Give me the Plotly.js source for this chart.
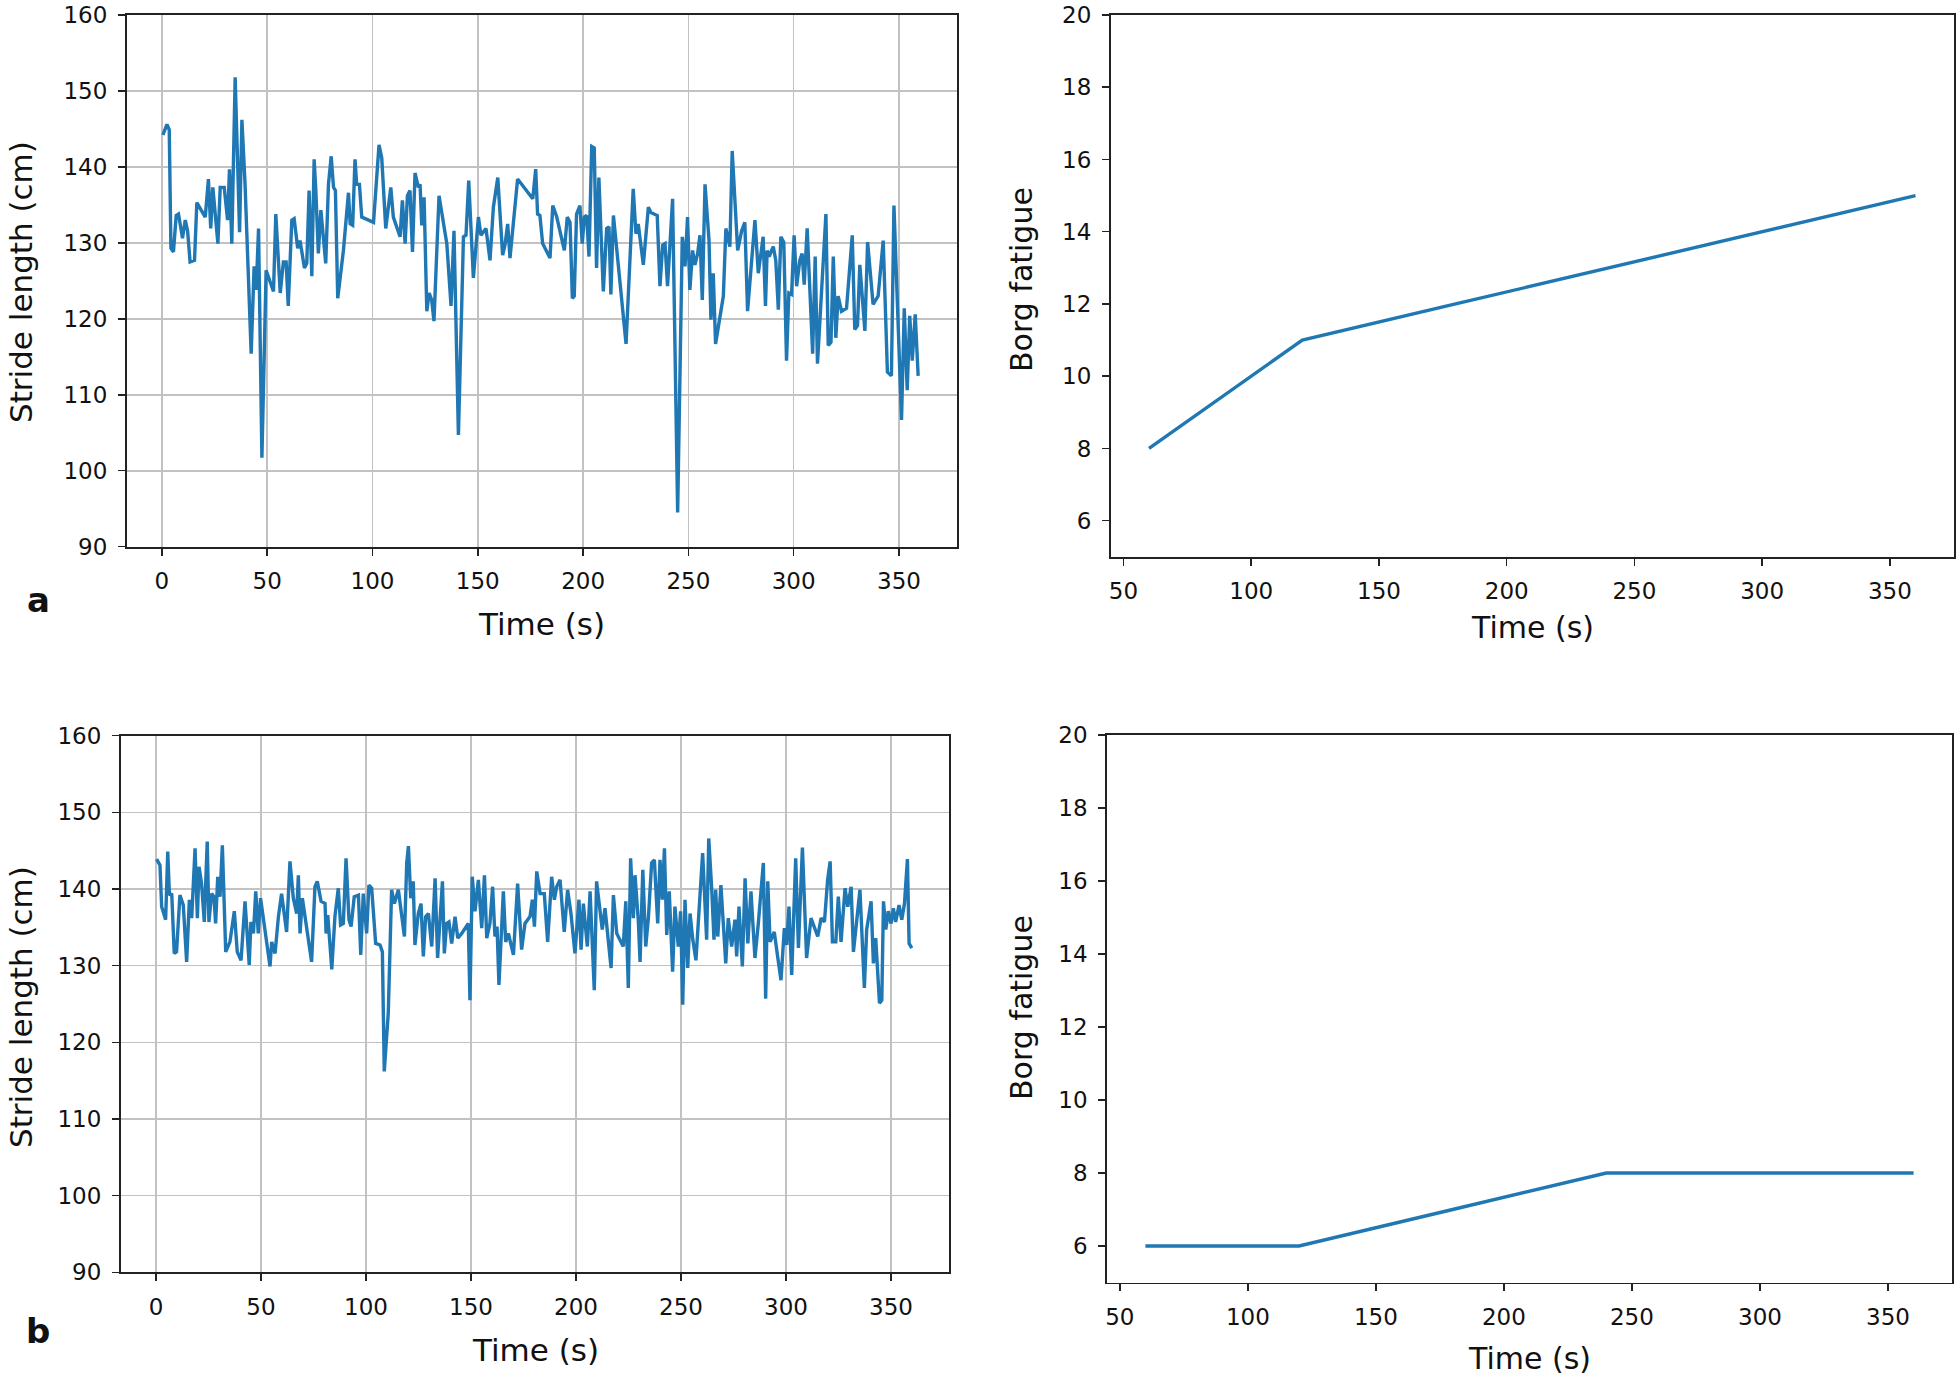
<!DOCTYPE html>
<html>
<head>
<meta charset="utf-8">
<script src="https://cdn.plot.ly/plotly-3.0.1.min.js"></script>
<style>html,body{margin:0;padding:0;background:#fff;}#chart{width:1957px;height:1375px;}</style>
</head>
<body>
<div id="chart"></div>
<script>
// ---- Data ----
const timeA = [0.5,2.4,3.5,4.3,5.5,6.8,7.9,9.8,11.1,12.2,13.4,15.5,16.6,20.6,22.1,23.2,24.2,26.6,27.7,29.6,31.2,32.1,33.2,34.8,36.9,38.0,39.5,42.4,43.8,44.8,45.9,47.5,49.5,53.0,54.1,56.2,57.7,59.0,60.0,61.7,62.8,64.5,65.6,67.7,68.8,69.9,71.2,72.3,73.1,74.3,75.5,77.8,79.1,80.4,81.5,82.4,83.5,86.2,88.6,89.4,90.6,91.7,92.5,93.8,94.9,100.5,103.1,104.4,106.3,108.7,109.9,113.1,114.2,115.5,116.6,117.8,119.0,120.2,121.8,122.6,123.4,124.5,125.8,126.9,128.1,129.2,131.6,135.3,137.3,138.7,140.8,143.2,144.4,145.7,147.9,150.3,151.5,152.6,153.9,155.8,157.4,159.5,161.8,162.9,164.2,165.3,168.9,176.1,177.5,178.4,179.5,180.8,184.3,185.6,187.5,191.1,192.5,193.8,194.9,195.8,196.9,198.5,199.6,200.6,201.7,202.8,204.1,205.3,206.4,207.5,209.6,211.2,212.3,213.2,214.4,220.4,223.8,225.1,226.2,228.6,231.0,232.2,235.2,236.5,237.8,238.9,240.1,242.5,244.9,247.1,248.4,249.6,250.7,252.0,253.1,254.4,255.5,256.6,257.9,259.8,260.7,261.8,262.9,266.6,267.8,269.7,270.8,273.4,275.3,276.8,278.1,281.6,283.2,285.5,286.6,287.4,288.4,289.5,290.3,291.5,292.7,293.9,295.3,296.6,297.7,299.0,300.2,301.4,302.9,304.0,305.0,306.4,307.7,309.0,310.2,311.3,315.3,316.4,317.7,318.8,320.0,321.1,322.7,325.1,327.8,329.0,330.3,331.4,333.8,335.1,337.7,340.1,342.5,344.5,346.4,347.6,351.2,352.5,353.9,355.1,356.3,357.7,359.1];
const strideA = [144.2,145.6,144.9,129.3,128.8,133.6,133.8,130.6,133.0,131.6,127.5,127.7,135.3,133.4,138.4,131.9,137.3,129.9,137.3,137.3,133.0,139.7,129.9,151.8,131.4,146.2,137.7,115.4,126.9,123.8,131.9,101.7,126.4,123.6,133.8,123.4,127.5,127.5,121.7,133.0,133.2,129.3,130.3,126.7,127.3,136.9,125.6,141.0,136.9,128.6,134.3,127.3,137.7,141.4,137.3,136.9,122.7,129.0,136.6,132.5,132.3,141.0,137.7,137.7,133.4,132.7,142.9,141.2,131.9,137.3,133.4,130.8,135.6,129.9,136.2,136.9,128.8,139.2,137.3,137.7,132.3,136.0,121.0,123.4,122.5,119.7,136.2,129.9,121.7,131.6,104.7,130.8,131.0,138.2,125.4,133.4,131.0,131.4,131.9,127.7,134.7,138.6,128.4,129.7,132.5,128.0,138.4,135.8,139.7,133.8,133.6,129.9,128.0,134.9,133.4,129.0,133.4,132.7,122.7,123.0,133.8,134.9,129.9,133.4,133.6,128.2,142.7,142.5,126.7,138.6,123.6,131.9,132.1,123.2,133.6,116.7,137.1,131.2,132.5,127.1,134.7,134.0,133.6,124.3,129.7,129.9,124.3,135.8,94.5,130.8,126.9,133.4,123.8,129.0,127.1,128.6,131.0,122.5,137.7,130.3,119.9,126.0,116.7,123.0,131.9,129.5,142.1,129.0,131.6,132.7,121.0,133.0,126.0,130.8,121.7,129.0,128.2,129.0,129.5,127.7,121.2,130.8,130.1,114.5,123.4,123.2,131.0,124.3,127.7,128.6,124.5,131.9,124.7,115.4,128.2,114.1,133.8,116.5,116.9,128.2,117.5,123.0,121.0,121.4,131.0,118.6,119.1,127.1,118.4,130.1,121.9,123.0,130.3,113.0,112.5,134.9,106.7,121.4,110.6,120.4,114.5,120.6,112.5];

const timeB = [0.3,1.9,2.7,4.6,5.6,6.4,7.5,8.7,9.8,11.4,13.0,14.6,15.9,17.0,18.6,19.7,20.5,21.7,23.0,24.4,25.2,26.5,27.6,28.4,29.4,30.5,31.6,33.2,35.2,37.3,38.7,40.5,42.4,44.4,45.2,46.4,47.5,48.7,49.8,51.9,54.3,55.1,56.7,58.3,59.8,62.2,63.8,65.4,67.0,67.8,68.6,69.7,74.1,75.7,76.8,78.6,80.5,81.0,81.8,83.7,85.2,86.8,87.9,89.2,90.5,91.9,92.9,94.4,96.4,97.5,98.7,100.3,101.4,102.7,104.6,106.7,107.8,108.7,110.6,112.2,113.5,115.4,117.0,118.3,119.4,120.2,121.3,122.5,123.3,124.9,126.2,127.3,128.4,129.7,131.3,132.9,134.1,135.2,136.4,137.3,138.4,139.5,140.8,142.4,143.7,145.6,148.7,149.5,150.6,151.9,153.5,155.1,156.4,157.5,159.0,160.3,161.4,162.4,163.3,165.4,166.5,167.8,170.2,172.2,174.1,175.7,178.1,179.2,180.2,181.3,182.9,184.9,186.5,188.4,189.7,190.8,192.4,194.4,196.0,197.6,199.5,201.4,202.4,203.5,205.4,206.7,208.7,209.8,211.4,212.5,213.8,215.1,216.7,217.8,219.4,222.5,223.7,224.9,226.0,227.3,228.1,229.7,230.5,231.8,233.2,234.5,236.0,237.3,238.9,240.0,241.1,242.1,243.2,244.4,246.0,247.1,248.7,249.8,250.8,251.9,253.2,254.3,255.6,257.1,260.3,262.2,263.2,264.6,265.7,266.5,267.5,269.0,271.3,272.5,274.1,275.7,276.5,277.6,279.2,280.5,281.8,283.3,285.2,286.8,289.2,290.3,291.3,292.4,294.4,296.0,297.6,299.2,300.3,301.4,302.7,304.6,305.9,307.8,309.8,311.9,313.8,315.1,316.7,318.3,319.8,321.0,322.1,323.7,324.9,326.2,328.1,329.4,331.0,332.1,335.2,337.3,338.4,340.5,341.6,342.7,344.5,345.6,346.4,347.5,348.7,350.0,351.1,352.2,353.8,355.1,356.4,357.8,358.6,359.9];
const strideB = [143.9,143.1,137.7,136.0,144.9,139.2,139.4,131.6,131.8,139.2,137.9,130.5,138.6,136.2,145.3,136.2,142.9,140.7,135.7,146.2,135.7,139.4,139.0,135.5,141.6,139.0,145.7,131.8,133.1,137.1,131.8,130.7,138.4,130.1,135.7,134.2,139.7,134.2,138.8,134.7,129.9,133.1,131.6,136.4,139.4,134.4,143.6,138.8,136.8,141.8,134.2,138.8,130.5,140.3,141.0,138.4,138.1,134.2,136.6,129.5,136.4,140.1,135.3,135.5,144.0,136.0,135.1,139.0,139.2,131.4,139.4,134.2,140.5,140.1,132.9,132.7,131.8,116.2,123.8,139.9,138.1,139.9,136.4,133.8,143.4,145.6,138.8,141.0,132.7,136.8,138.1,131.2,136.4,136.8,132.5,141.4,131.0,135.5,141.0,131.6,135.5,135.7,132.9,136.4,133.6,134.2,135.5,125.5,141.6,137.1,141.2,134.9,141.8,133.6,135.5,140.3,133.8,135.1,127.5,139.7,133.1,134.2,131.4,140.7,132.1,135.5,136.4,138.6,135.1,142.3,139.4,139.4,133.1,141.6,138.6,140.3,141.2,134.4,139.9,136.8,131.6,138.6,132.1,138.1,132.5,139.7,126.8,141.0,137.1,134.7,137.5,134.2,129.7,139.2,134.2,132.5,138.4,127.1,144.0,136.2,141.8,135.7,130.5,142.5,132.5,136.4,143.4,143.8,135.5,143.8,138.6,145.3,134.0,139.7,129.2,137.7,132.5,137.1,124.9,138.6,129.7,136.8,133.4,130.7,144.7,133.4,146.6,140.1,133.4,139.9,133.8,140.5,130.3,136.2,132.5,136.0,131.2,137.7,129.9,141.4,132.9,139.7,131.0,135.5,143.4,125.7,141.0,133.1,134.4,131.2,128.1,134.9,132.7,137.7,128.8,144.0,132.3,145.4,131.0,136.2,134.7,133.8,136.2,135.7,141.2,143.6,133.1,133.1,139.0,133.1,140.1,137.7,140.3,131.8,139.9,127.1,134.7,138.4,130.3,133.6,125.1,125.5,138.4,134.7,137.1,135.5,137.5,135.7,137.9,136.0,138.1,143.9,132.9,132.3];

const borgTime = [60,120,180,240,300,360];
const borgA = [8,11,12,13,14,15];
const borgB = [6,6,7,8,8,8];

const strideTicks = [90,100,110,120,130,140,150,160];
const timeTicksLeft = [0,50,100,150,200,250,300,350];
const borgTicks = [6,8,10,12,14,16,18,20];
const timeTicksRight = [50,100,150,200,250,300,350];

// ---- Styling ----
const W = 1957, H = 1375;
const px = v => v / W;
const py = v => 1 - v / H;
const blue = '#1f77b4';
const tickFont = {family: 'DejaVu Sans', size: 23, color: '#111'};
const spine = '#222';

function axisBase(extra) {
  return Object.assign({
    showline: true, linecolor: spine, linewidth: 1.8, mirror: true,
    ticks: 'outside', ticklen: 7, tickwidth: 1.5, tickcolor: spine,
    tickfont: tickFont, zeroline: false, fixedrange: true,
    ticklabelstandoff: 6, ticklabeloverflow: 'allow'
  }, extra);
}
const gridOn = {showgrid: true, gridcolor: '#c2c2c2', gridwidth: 1.6};
const gridOff = {showgrid: false};
const lineStyle = {color: blue, width: 3.4};

const traces = [
  {x: timeA, y: strideA, xaxis: 'x', yaxis: 'y', type: 'scatter', mode: 'lines',
   line: lineStyle, hoverinfo: 'skip', showlegend: false},
  {x: borgTime, y: borgA, xaxis: 'x2', yaxis: 'y2', type: 'scatter', mode: 'lines',
   line: lineStyle, hoverinfo: 'skip', showlegend: false},
  {x: timeB, y: strideB, xaxis: 'x3', yaxis: 'y3', type: 'scatter', mode: 'lines',
   line: lineStyle, hoverinfo: 'skip', showlegend: false},
  {x: borgTime, y: borgB, xaxis: 'x4', yaxis: 'y4', type: 'scatter', mode: 'lines',
   line: lineStyle, hoverinfo: 'skip', showlegend: false}
];

const titleFontL = {family: 'DejaVu Sans', size: 31, color: '#111'};
const titleFontR = {family: 'DejaVu Sans', size: 30, color: '#111'};
const panelFont = {family: 'DejaVu Sans', size: 34, color: '#111', weight: 'bold'};

function ann(text, x, y, font, angle) {
  return {text: text, x: px(x), y: py(y), xref: 'paper', yref: 'paper',
    showarrow: false, xanchor: 'center', yanchor: 'middle', font: font, textangle: angle || 0};
}

const layout = {
  width: W, height: H,
  margin: {l: 0, r: 0, t: 0, b: 0, pad: 0},
  paper_bgcolor: '#fff', plot_bgcolor: '#fff',
  showlegend: false,
  xaxis: axisBase(Object.assign({domain: [px(126.7), px(956.7)], range: [-16.7, 377.4], anchor: 'y',
    tickvals: timeTicksLeft}, gridOn)),
  yaxis: axisBase(Object.assign({domain: [py(546.7), py(15)], range: [90, 160], anchor: 'x',
    tickvals: strideTicks}, gridOn)),
  xaxis2: axisBase(Object.assign({domain: [px(1110.7), px(1953.8)], range: [45, 375], anchor: 'y2',
    tickvals: timeTicksRight}, gridOff)),
  yaxis2: axisBase(Object.assign({domain: [py(556.8), py(15)], range: [5, 20], anchor: 'x2',
    tickvals: borgTicks}, gridOff)),
  xaxis3: axisBase(Object.assign({domain: [px(120.7), px(949)], range: [-16.8, 377.6], anchor: 'y3',
    tickvals: timeTicksLeft}, gridOn)),
  yaxis3: axisBase(Object.assign({domain: [py(1272.3), py(735.7)], range: [90, 160], anchor: 'x3',
    tickvals: strideTicks}, gridOn)),
  xaxis4: axisBase(Object.assign({domain: [px(1107), px(1952)], range: [45, 375], anchor: 'y4',
    tickvals: timeTicksRight}, gridOff)),
  yaxis4: axisBase(Object.assign({domain: [py(1282.5), py(735)], range: [5, 20], anchor: 'x4',
    tickvals: borgTicks}, gridOff)),
  annotations: [
    ann('Stride length (cm)', 21, 282, titleFontL, -90),
    ann('Time (s)', 541.7, 624, titleFontL),
    ann('Borg fatigue', 1022, 280, titleFontR, -90),
    ann('Time (s)', 1532, 628, titleFontR),
    ann('Stride length (cm)', 21, 1007, titleFontL, -90),
    ann('Time (s)', 535, 1350, titleFontL),
    ann('Borg fatigue', 1021, 1008, titleFontR, -90),
    ann('Time (s)', 1529.5, 1358, titleFontR),
    ann('a', 38, 600, panelFont),
    ann('b', 38, 1331, panelFont)
  ]
};

Plotly.newPlot('chart', traces, layout, {staticPlot: true, displayModeBar: false});
</script>
</body>
</html>
